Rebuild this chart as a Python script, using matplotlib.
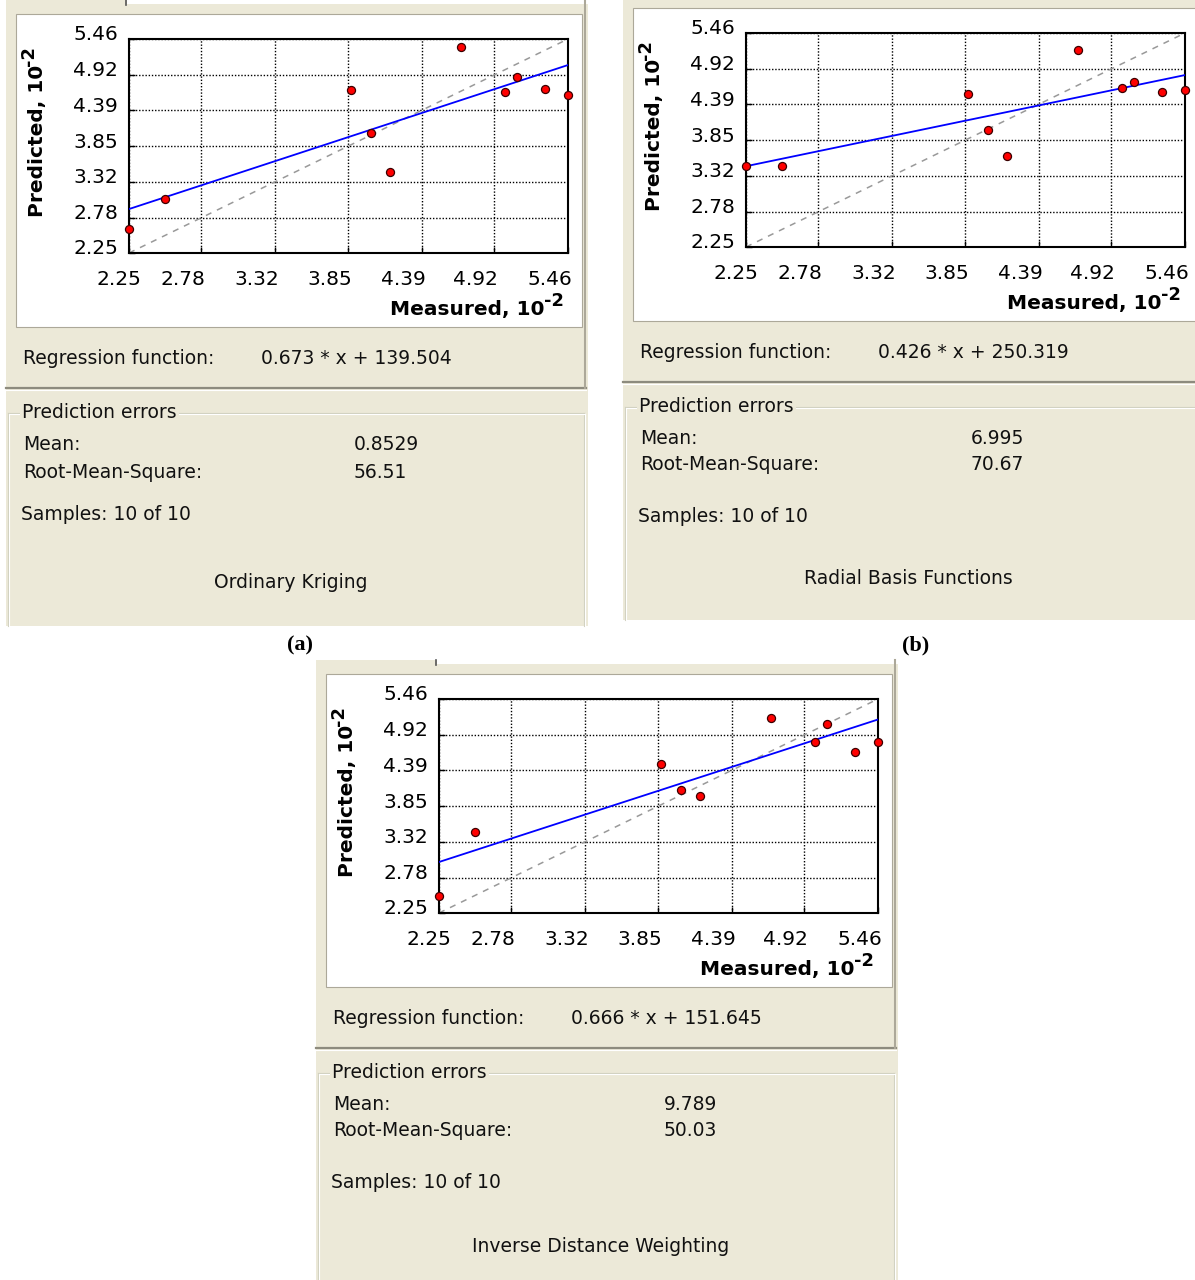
import matplotlib
matplotlib.use("Agg")
import matplotlib.pyplot as plt
from matplotlib.patches import Rectangle
from matplotlib.transforms import ScaledTranslation

W, H = 1195, 1280

# axis ticks, units of 10^-2
ticks = [2.25, 2.78, 3.32, 3.85, 4.39, 4.92, 5.46]
tick_labels = ["2.25", "2.78", "3.32", "3.85", "4.39", "4.92", "5.46"]

# measured values (same 10 samples in every panel)
measured = [2.25, 2.51, 3.87, 4.02, 4.16, 4.68, 5.00, 5.09, 5.29, 5.46]

# predicted values
pred_kriging = [2.61, 3.06, 4.69, 4.05, 3.46, 5.34, 4.66, 4.89, 4.71, 4.62]
pred_rbf = [3.47, 3.47, 4.54, 4.00, 3.61, 5.20, 4.63, 4.72, 4.57, 4.60]
pred_idw = [2.51, 3.47, 4.49, 4.10, 4.01, 5.18, 4.82, 5.09, 4.67, 4.82]

methods = ["Ordinary Kriging", "Radial Basis Functions", "Inverse Distance Weighting"]
slopes = [0.673, 0.426, 0.666]
intercepts = [139.504, 250.319, 151.645]
mean_errors = ["0.8529", "6.995", "9.789"]
rms_errors = ["56.51", "70.67", "50.03"]
samples = ["10 of 10", "10 of 10", "10 of 10"]

BEIGE = "#ECE9D8"
GUI_FONT = "DejaVu Sans"

fig = plt.figure(figsize=(W / 100, H / 100), dpi=100)
fig.patch.set_facecolor("white")
bg = fig.add_axes([0, 0, 1, 1])
bg.set_xlim(0, W)
bg.set_ylim(H, 0)
bg.axis("off")


def px_axes(x0, y0, x1, y1):
    return fig.add_axes([x0 / W, 1 - y1 / H, (x1 - x0) / W, (y1 - y0) / H])


def gui_text(x, y, s, **kw):
    bg.text(x, y, s, fontsize=13.5, family=GUI_FONT, va="center", ha="left",
            color="#111111", **kw)


def bold_text(x, y, s, size=14.5, **kw):
    bg.text(x, y, s, fontsize=size, weight="bold", family=GUI_FONT,
            va="center", zorder=3, **kw)


def draw_panel(ox, oy, pred, slope, icpt, mean, rms, nsamp, method, rows, strip=True):
    # window background
    bg.add_patch(Rectangle((ox + 6, oy), 582, 626, fc=BEIGE, ec="none", zorder=0))
    if strip:
        bg.add_patch(Rectangle((ox + 127, oy), 461, 4, fc="white", ec="none", zorder=1))
        bg.plot([ox + 126, ox + 126], [oy, oy + 5], color="#555555", lw=1.2, zorder=2)
    # upper (raised) section
    bg.plot([ox + 6, ox + 586], [oy + 388, oy + 388], color="#8D8B7E", lw=1.6, zorder=2)
    bg.plot([ox + 6, ox + 586], [oy + 390, oy + 390], color="white", lw=0.8, zorder=2)
    bg.plot([ox + 585, ox + 585], [oy, oy + 388], color="#ACA899", lw=1.5, zorder=2)
    # white chart area
    bg.add_patch(Rectangle((ox + 16, oy + 14), 566, 313, fc="white", ec="#ACA899",
                           lw=0.8, zorder=1))
    # group box (etched)
    bot = oy + 626
    for d, c in [(0, "#D0D0BF"), (1, "white")]:
        bg.plot([ox + 8 + d, ox + 8 + d], [oy + 413 + d, bot], color=c, lw=0.8, zorder=2)
        bg.plot([ox + 584 + d, ox + 584 + d], [oy + 413 + d, bot], color=c, lw=0.8, zorder=2)
        bg.plot([ox + 8 + d, ox + 584 + d], [oy + 413 + d, oy + 413 + d], color=c, lw=0.8, zorder=2)

    # texts
    gui_text(ox + 23, oy + 358, "Regression function:")
    gui_text(ox + 261, oy + 358, f"{slope:.3f} * x + {icpt:.3f}")
    gui_text(ox + 22, oy + 413, "Prediction errors", zorder=3,
             bbox=dict(fc=BEIGE, ec="none", pad=1.5))
    gui_text(ox + 23, oy + rows[0], "Mean:")
    gui_text(ox + 354, oy + rows[0], mean)
    gui_text(ox + 23, oy + rows[1], "Root-Mean-Square:")
    gui_text(ox + 354, oy + rows[1], rms)
    gui_text(ox + 21, oy + rows[2], "Samples: " + nsamp)
    bg.text(ox + 291, oy + rows[3], method, fontsize=13.5, family=GUI_FONT,
            ha="center", va="center", color="#111111")

    # axis titles, with a large superscript like the original
    bold_text(ox + 545, oy + 310, "Measured, 10", ha="right")
    bold_text(ox + 564, oy + 301, "-2", size=13, ha="right")
    bold_text(ox + 38, oy + 141, "Predicted, 10", ha="center", rotation=90)
    bold_text(ox + 29, oy + 56, "-2", size=13, ha="center", rotation=90)

    # scatter plot
    ax = px_axes(ox + 129, oy + 39, ox + 568, oy + 253)
    ax.set_facecolor("white")
    lo, hi = ticks[0], ticks[-1]
    ax.set_xlim(lo, hi)
    ax.set_ylim(lo, hi)
    ax.set_xticks(ticks)
    ax.set_xticklabels(tick_labels)
    ax.set_yticks(ticks)
    ax.set_yticklabels(tick_labels)
    ax.grid(True, color="black", ls=(0, (1, 1.3)), lw=1.0)
    ax.set_axisbelow(True)
    for sp in ax.spines.values():
        sp.set_linewidth(1.5)
        sp.set_color("black")
    ax.tick_params(direction="in", length=4, width=1, labelsize=14.5, colors="black")
    ax.tick_params(axis="x", pad=12)
    ax.tick_params(axis="y", pad=8)
    for i, lab in enumerate(ax.get_xticklabels()):
        lab.set_ha("right")
        lab.set_family(GUI_FONT)
        dx = 12 if i == 0 else 4
        lab.set_transform(lab.get_transform() + ScaledTranslation(dx / 100, 0, fig.dpi_scale_trans))
    for lab in ax.get_yticklabels():
        lab.set_family(GUI_FONT)
        lab.set_transform(lab.get_transform() + ScaledTranslation(0, 6 / 100, fig.dpi_scale_trans))

    ax.plot([lo, hi], [lo, hi], color="#999999", ls=(0, (4, 4)), lw=1.1, zorder=2)
    ax.plot([lo, hi], [slope * lo + icpt / 100, slope * hi + icpt / 100],
            color="#0000FF", lw=1.3, zorder=3)
    ax.plot(measured, pred, "o", ms=5.8, mfc="#FF0000", mec="#3A0000", mew=0.9,
            clip_on=False, zorder=5)
    return ax


preds = [pred_kriging, pred_rbf, pred_idw]
origins = [(0, 0), (617, -6), (310, 660)]
text_rows = [[445, 472, 515, 582], [444, 471, 523, 585], [444, 471, 522, 586]]

for k in range(3):
    ox, oy = origins[k]
    draw_panel(ox, oy, preds[k], slopes[k], intercepts[k], mean_errors[k],
               rms_errors[k], samples[k], methods[k], text_rows[k], strip=(k != 1))

bg.text(300, 645, "(a)", family="Liberation Serif", weight="bold", fontsize=16,
        ha="center", va="center")
bg.text(916, 645, "(b)", family="Liberation Serif", weight="bold", fontsize=16,
        ha="center", va="center")

fig.savefig("out.png", dpi=100)
